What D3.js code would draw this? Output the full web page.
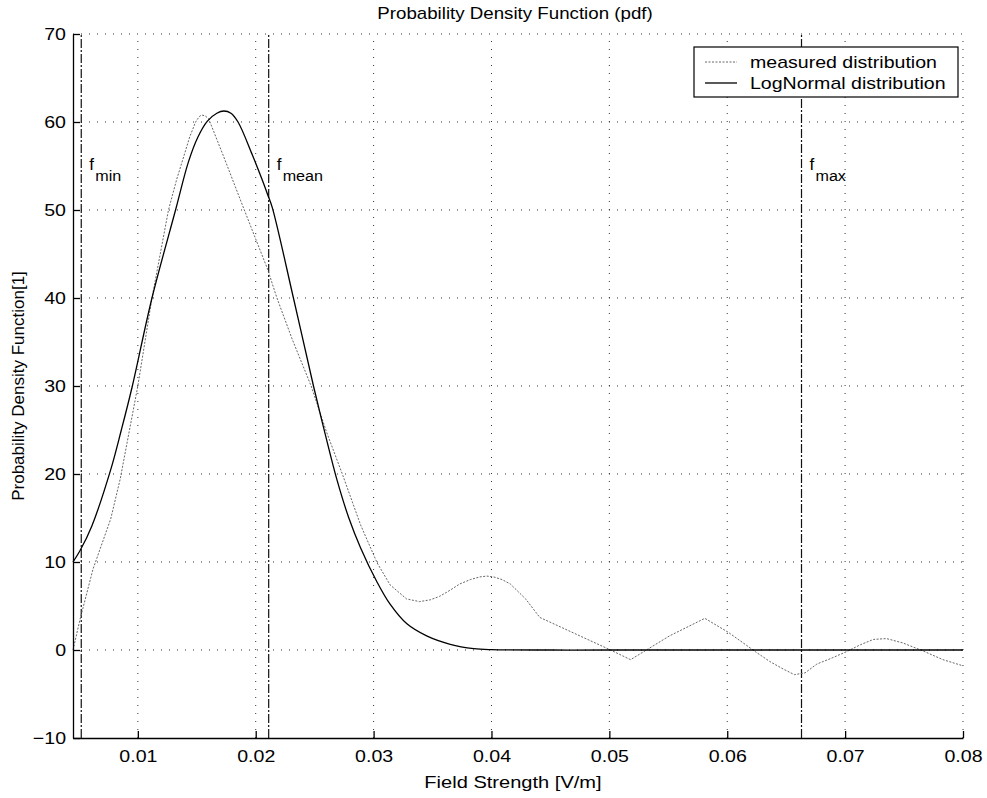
<!DOCTYPE html>
<html>
<head>
<meta charset="utf-8">
<script src="https://cdn.jsdelivr.net/npm/d3@7"></script>
<style>
  body { margin: 0; background: #fff; }
  text { font-family: "Liberation Sans", Arial, sans-serif; fill: #000; }
</style>
</head>
<body>
<div id="chart"></div>
<script>
// measured distribution
const measuredX = [0.0045, 0.0051, 0.0062, 0.0077, 0.0085, 0.0100, 0.0112, 0.0126, 0.0133, 0.0139,
  0.0144, 0.0149, 0.0152, 0.0154, 0.0157, 0.0160, 0.0173, 0.0188, 0.0200, 0.0210,
  0.0218, 0.0231, 0.0247, 0.0260, 0.0274, 0.0289, 0.0303, 0.0314, 0.0328, 0.0339,
  0.0348, 0.0356, 0.0365, 0.0373, 0.0382, 0.0390, 0.0396, 0.0402, 0.0409, 0.0416,
  0.0429, 0.0441, 0.0501, 0.0518, 0.0551, 0.0581, 0.0601, 0.0624, 0.0636, 0.0648,
  0.0657, 0.0666, 0.0676, 0.0689, 0.0701, 0.0713, 0.0724, 0.0735, 0.0749, 0.0766,
  0.0783, 0.0800]
const measuredY = [0.0, 3.5, 9.2, 14.9, 19.4, 30.0, 40.0, 50.0, 53.5, 56.1,
  58.3, 60.0, 60.6, 60.8, 60.7, 60.4, 56.0, 50.8, 46.7, 43.3,
  40.0, 35.3, 30.0, 24.8, 19.8, 14.2, 9.9, 7.4, 5.8, 5.5,
  5.7, 6.1, 6.8, 7.5, 8.0, 8.3, 8.4, 8.3, 8.0, 7.5,
  5.8, 3.7, 0.0, -1.1, 1.6, 3.6, 2.0, -0.2, -1.3, -2.2,
  -2.8, -2.6, -1.6, -0.9, -0.2, 0.6, 1.2, 1.3, 0.8, -0.1,
  -1.1, -1.8]

// fitted LogNormal distribution
const logNormX = [0.0045, 0.0051, 0.0061, 0.0077, 0.0086, 0.0095, 0.0112, 0.0132, 0.0143, 0.0151,
  0.0159, 0.0167, 0.0173, 0.0179, 0.0185, 0.0197, 0.0205, 0.0210, 0.0214, 0.0232,
  0.0249, 0.0259, 0.0269, 0.0279, 0.0289, 0.0303, 0.0314, 0.0328, 0.0345, 0.0365,
  0.0385, 0.0400, 0.0450, 0.0500, 0.0600, 0.0700, 0.0800]
const logNormY = [10.0, 11.3, 14.1, 20.5, 25.0, 29.8, 40.0, 50.0, 55.5, 58.3,
  60.1, 61.0, 61.25, 61.0, 60.0, 56.3, 53.6, 51.8, 50.3, 40.0,
  30.0, 24.5, 19.3, 15.0, 11.6, 7.7, 5.2, 3.0, 1.6, 0.65,
  0.16, 0.04, 0.0, 0.0, 0.0, 0.0, 0.0]

const markers = [
  { name: "min", value: 0.0052 },
  { name: "mean", value: 0.0211 },
  { name: "max", value: 0.0663 }
]
const xTicks = [0.01, 0.02, 0.03, 0.04, 0.05, 0.06, 0.07, 0.08]
const yTicks = [-10, 0, 10, 20, 30, 40, 50, 60, 70]
const seriesNames = ["measured distribution", "LogNormal distribution"]

const width = 987
const height = 798
const margin = ({ top: 34, right: 24, bottom: 60, left: 73 })

const svg = d3.select("#chart").append("svg")
  .attr("width", width)
  .attr("height", height)
  .attr("viewBox", [0, 0, width, height])

const x = d3.scaleLinear()
  .domain([0.0045, 0.08])
  .range([margin.left, width - margin.right])

const y = d3.scaleLinear()
  .domain([-10, 70])
  .range([height - margin.bottom, margin.top])

// scanned text is a bit wider than the font
const stretch = (sel, k = 1.15) => sel.each(function () {
  const w = this.getComputedTextLength()
  d3.select(this).attr("textLength", w * k).attr("lengthAdjust", "spacingAndGlyphs")
})

// grid
svg.append("g")
  .selectAll("line")
  .data(xTicks)
  .join("line")
  .attr("x1", d => x(d)).attr("x2", d => x(d))
  .attr("y1", y(-10)).attr("y2", y(70))
  .attr("stroke", "#333")
  .attr("stroke-width", 1)
  .attr("stroke-dasharray", "1,7")

svg.append("g")
  .selectAll("line")
  .data(yTicks.filter(d => d > -10))
  .join("line")
  .attr("x1", x(0.0045)).attr("x2", x(0.08))
  .attr("y1", d => y(d)).attr("y2", d => y(d))
  .attr("stroke", "#333")
  .attr("stroke-width", 1)
  .attr("stroke-dasharray", "1,7")

// f_min / f_mean / f_max lines
svg.append("g")
  .selectAll("line")
  .data(markers)
  .join("line")
  .attr("x1", d => x(d.value)).attr("x2", d => x(d.value))
  .attr("y1", y(-10)).attr("y2", y(70))
  .attr("stroke", "#111")
  .attr("stroke-width", 1.2)
  .attr("stroke-dasharray", "9,2,2,2")

const lineM = d3.line()
  .x((d, i) => x(measuredX[i]))
  .y(d => y(d))

const lineL = d3.line()
  .curve(d3.curveCatmullRom.alpha(0.5))
  .x((d, i) => x(logNormX[i]))
  .y(d => y(d))

svg.append("path")
  .datum(measuredY)
  .attr("fill", "none")
  .attr("stroke", "#666")
  .attr("stroke-width", 1)
  .attr("stroke-dasharray", "2,1.5")
  .attr("d", lineM)

svg.append("path")
  .datum(logNormY)
  .attr("fill", "none")
  .attr("stroke", "#000")
  .attr("stroke-width", 1.3)
  .attr("stroke-linejoin", "round")
  .attr("d", lineL)

// axes
const xAxis = g => g
  .attr("transform", `translate(0,${height - margin.bottom})`)
  .call(d3.axisBottom(x).tickValues(xTicks).tickFormat(d3.format(".2f"))
    .tickSize(-7).tickSizeOuter(0).tickPadding(12))
  .call(g => g.selectAll("line, path").attr("stroke", "#000").attr("stroke-width", 1.3))
  .call(g => g.selectAll("text").attr("font-size", 17).attr("font-family", null).call(stretch))

const yAxis = g => g
  .attr("transform", `translate(${margin.left},0)`)
  .call(d3.axisLeft(y).tickValues(yTicks).tickSize(-7).tickSizeOuter(0).tickPadding(7))
  .call(g => g.selectAll("line, path").attr("stroke", "#000").attr("stroke-width", 1.3))
  .call(g => g.selectAll("text").attr("font-size", 17).attr("font-family", null).call(stretch))

svg.append("g").call(xAxis)
svg.append("g").call(yAxis)

// marker labels
const labels = svg.append("g")
labels.selectAll(".f")
  .data(markers)
  .join("text")
  .attr("x", d => x(d.value) + 8)
  .attr("y", 170)
  .attr("font-size", 17)
  .text("f")
labels.selectAll(".sub")
  .data(markers)
  .join("text")
  .attr("x", d => x(d.value) + 14)
  .attr("y", 181)
  .attr("font-size", 14)
  .text(d => d.name)
  .call(stretch)

// titles
svg.append("text")
  .attr("x", 515)
  .attr("y", 19)
  .attr("text-anchor", "middle")
  .attr("font-size", 17)
  .text("Probability Density Function (pdf)")
  .call(stretch, 1.1)

svg.append("text")
  .attr("x", 513)
  .attr("y", 788)
  .attr("text-anchor", "middle")
  .attr("font-size", 17)
  .text("Field Strength [V/m]")
  .call(stretch, 1.18)

svg.append("text")
  .attr("transform", `translate(24,${(margin.top + height - margin.bottom) / 2}) rotate(-90)`)
  .attr("text-anchor", "middle")
  .attr("font-size", 17)
  .text("Probability Density Function[1]")

// legend
const legend = svg.append("g").attr("transform", "translate(694,47)")
legend.append("rect")
  .attr("width", 264).attr("height", 50)
  .attr("fill", "#fff").attr("stroke", "#000").attr("stroke-width", 1.2)

const entries = legend.selectAll("g")
  .data(seriesNames)
  .join("g")
  .attr("transform", (d, i) => `translate(0,${15 + i * 21})`)

entries.append("line")
  .attr("x1", 11).attr("x2", 43)
  .attr("stroke", (d, i) => i === 0 ? "#666" : "#000")
  .attr("stroke-width", (d, i) => i === 0 ? 1 : 1.3)
  .attr("stroke-dasharray", (d, i) => i === 0 ? "2,1.5" : null)

entries.append("text")
  .attr("x", 56)
  .attr("y", 6)
  .attr("font-size", 17)
  .text(d => d)
  .call(stretch)
</script>
</body>
</html>
